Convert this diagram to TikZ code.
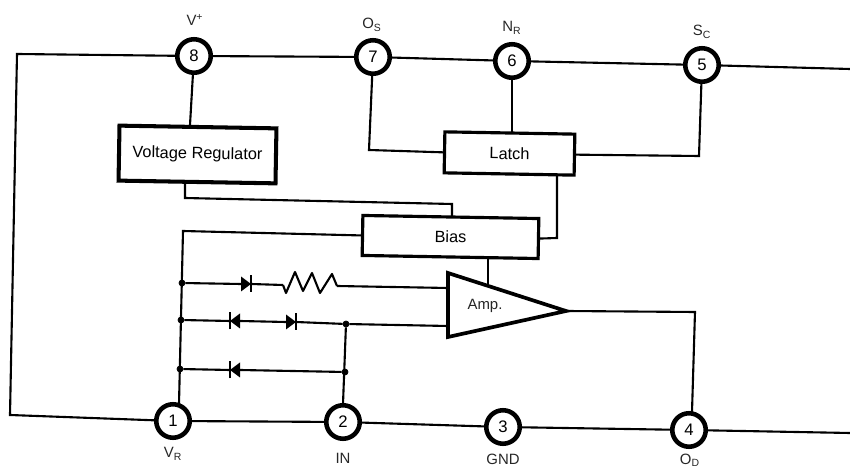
\documentclass[tikz,border=0pt]{standalone}
\usepackage{fontspec}
\setmainfont{Liberation Sans}
\usetikzlibrary{positioning}

\tikzset{
    wire/.style={line width=1.2pt},
    pin/.style={draw, circle, fill=white, line width=2.6pt, minimum size=0.67cm, inner sep=0pt, font=\fontsize{9.5}{11}\selectfont},
    block/.style={draw, fill=white, rectangle, rotate=-1, inner sep=0pt, font=\fontsize{9.3}{11}\selectfont},
    pinlabel/.style={inner sep=0pt, text=black!85, font=\fontsize{8.5}{10}\selectfont},
    joint/.style={draw, circle, fill=black, minimum size=0.12cm, inner sep=0pt},
    diode/.pic={
        \fill (-5,-7.5) -- (5,0) -- (-5,7.5) -- cycle;
        \draw[line width=1pt] (5,-8.5) -- (5,8.5);
        \coordinate (-in) at (-5,0);
        \coordinate (-out) at (5,0);
    },
    zigzag/.pic={
        \draw[wire, line join=round] (-27,2) -- (-24,10) -- (-15,-11) -- (-7,8) -- (2,-10) -- (10,10) -- (22,-9) -- (27,3);
        \coordinate (-in) at (-27,2);
        \coordinate (-out) at (27,3);
    }
}

\begin{document}
\begin{tikzpicture}[x=0.02cm, y=-0.02cm]
    \useasboundingbox (0,0) rectangle (850,469);

    \node[pin] (pin8) at (194,56) {8};
    \node[pin] (pin7) at (373,57) {7};
    \node[pin] (pin6) at (512,61) {6};
    \node[pin] (pin5) at (702,65) {5};
    \node[pin] (pin1) at (173,421) {1};
    \node[pin] (pin2) at (343,422) {2};
    \node[pin] (pin3) at (503,427) {3};
    \node[pin] (pin4) at (689,430) {4};

    \node[pinlabel] (labelV) at (195,20) {V\textsuperscript{+}};
    \node[pinlabel] (labelO) at (372,25) {O\textsubscript{S}};
    \node[pinlabel] (labelN) at (512,28) {N\textsubscript{R}};
    \node[pinlabel] (labelS) at (702,32) {S\textsubscript{C}};
    \node[pinlabel] (labelR) at (173,454) {V\textsubscript{R}};
    \node[pinlabel] (labelIN) at (343,458) {IN};
    \node[pinlabel] (labelG) at (503,459) {GND};
    \node[pinlabel] (labelD) at (690,460) {O\textsubscript{D}};

    \node[block, line width=2.3pt, minimum width=3.14cm, minimum height=1.1cm] (vreg) at (197.5,154.5) {Voltage Regulator};
    \node[block, line width=1.8pt, minimum width=2.6cm, minimum height=0.82cm] (latch) at (509.5,153.5) {Latch};
    \node[block, line width=1.8pt, minimum width=3.52cm, minimum height=0.8cm] (bias) at (450.5,237) {Bias};

    \coordinate (ampA) at (448,273);
    \coordinate (ampB) at (566,311);
    \coordinate (ampC) at (448,337);
    \draw[line width=2.1pt, fill=white] (ampA) -- (ampB) -- (ampC) -- cycle;
    \node[pinlabel] (amp) at (485,306) {Amp.};

    \coordinate (cornerTL) at (17,54);
    \coordinate (cornerBL) at (10,415);
    \coordinate (endT) at (850,69);
    \coordinate (endB) at (850,433);
    \draw[wire] (pin8) -- (cornerTL) -- (cornerBL) -- (pin1);
    \draw[wire] (pin8) -- (pin7);
    \draw[wire] (pin7) -- (pin6);
    \draw[wire] (pin6) -- (pin5);
    \draw[wire] (pin5) -- (endT);
    \draw[wire] (pin1) -- (pin2);
    \draw[wire] (pin2) -- (pin3);
    \draw[wire] (pin3) -- (pin4);
    \draw[wire] (pin4) -- (endB);

    \coordinate (vregIn) at (190,125);
    \coordinate (vregOut) at (185,183);
    \coordinate (vregA) at (185,198);
    \coordinate (biasIn) at (452,204);
    \coordinate (biasTop) at (452,216);
    \coordinate (latchA) at (369,150);
    \coordinate (latchB) at (699,156);
    \coordinate (latchTop) at (512,133);
    \coordinate (latchOut) at (557,175);
    \coordinate (biasA) at (557,238);
    \coordinate (biasB) at (183,231);
    \coordinate (biasOut) at (488,258);
    \coordinate (ampIn) at (488,286);
    \coordinate (outA) at (695,312);
    \coordinate (pinOneTop) at (179,404);
    \coordinate (pinTwoTop) at (343,404);
    \coordinate (pinFourTop) at (692,412);
    \coordinate (ampInA) at (448,288);
    \coordinate (ampInB) at (448,326);
    \draw[wire] (pin8) -- (vregIn);
    \draw[wire] (vregOut) -- (vregA) -- (biasIn) -- (biasTop);
    \draw[wire] (pin7) -- (latchA) -- (latch.west);
    \draw[wire] (pin6) -- (latchTop);
    \draw[wire] (pin5) -- (latchB) -- (latch.east);
    \draw[wire] (latchOut) -- (biasA) -- (bias.east);
    \draw[wire] (bias.west) -- (biasB) -- (pinOneTop);
    \draw[wire] (biasOut) -- (ampIn);
    \draw[wire] (ampB) -- (outA) -- (pinFourTop);

    \node[joint] (jointA) at (182,283) {};
    \node[joint] (jointB) at (181,320) {};
    \node[joint] (jointC) at (180,369) {};
    \node[joint] (jointD) at (346,324) {};
    \node[joint] (jointE) at (345,372) {};

    \pic (diodeA) at (246,284) {diode};
    \pic[rotate=180] (diodeB) at (235,321) {diode};
    \pic (diodeC) at (291,322) {diode};
    \pic[rotate=180] (diodeD) at (235,370) {diode};
    \pic (res) at (310,283) {zigzag};

    \draw[wire] (jointA) -- (diodeA-in);
    \draw[wire] (diodeA-out) -- (res-in);
    \draw[wire] (res-out) -- (ampInA);
    \draw[wire] (jointB) -- (diodeB-out);
    \draw[wire] (diodeB-in) -- (diodeC-in);
    \draw[wire] (diodeC-out) -- (jointD);
    \draw[wire] (jointD) -- (ampInB);
    \draw[wire] (jointC) -- (diodeD-out);
    \draw[wire] (diodeD-in) -- (jointE);
    \draw[wire] (jointD) -- (pinTwoTop);
\end{tikzpicture}
\end{document}
